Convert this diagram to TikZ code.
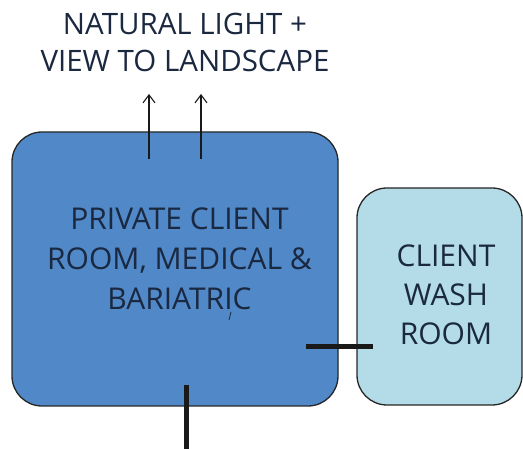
\documentclass[tikz,border=0pt]{standalone}
\usepackage{fontspec}
\setmainfont{Open Sans}
\usetikzlibrary{arrows.meta}
\definecolor{roomblue}{HTML}{5088C8}
\definecolor{washblue}{HTML}{B3DCE8}
\definecolor{labelcol}{HTML}{1A2840}
\begin{document}
\begin{tikzpicture}[x=1pt,y=-1pt,
  room/.style={draw=black!85, line width=1.3pt, rounded corners=30pt},
  label/.style={text=labelcol, align=center, inner sep=0pt, anchor=north},
  door/.style={line width=5pt, draw=black!90},
  sight/.style={line width=1.1pt, draw=black!90, -{Straight Barb[length=8pt,width=12pt]}}]
\useasboundingbox (0,0) rectangle (523,449);

% rooms
\draw[room, fill=roomblue] (12,132) rectangle (338,406);
\draw[room, fill=washblue] (357,188) rectangle (522,405);

% labels
\node[label, font=\fontsize{29.5}{37}\selectfont] (view) at (185,12.7)
  {NATURAL LIGHT +\\VIEW TO LANDSCAPE};
\node[label, font=\fontsize{30}{40}\selectfont] (privlabel) at (179.5,208)
  {PRIVATE CLIENT\\ROOM, MEDICAL \&\\BARIATRIC};
\node[label, font=\fontsize{30}{39}\selectfont] (washlabel) at (446,245)
  {CLIENT\\WASH\\ROOM};
\draw[labelcol, line width=0.8pt] (231,312) -- (229,320);

% outlook arrows
\coordinate (a1s) at (149,159);
\coordinate (a1e) at (149,94);
\coordinate (a2s) at (201,159);
\coordinate (a2e) at (201,94);
\draw[sight] (a1s) -- (a1e);
\draw[sight] (a2s) -- (a2e);

% door openings
\coordinate (d1s) at (306,347);
\coordinate (d1e) at (373,347);
\draw[door] (d1s) -- (d1e);
\coordinate (d2s) at (186,385);
\coordinate (d2e) at (186,449);
\draw[door] (d2s) -- (d2e);
\end{tikzpicture}
\end{document}
